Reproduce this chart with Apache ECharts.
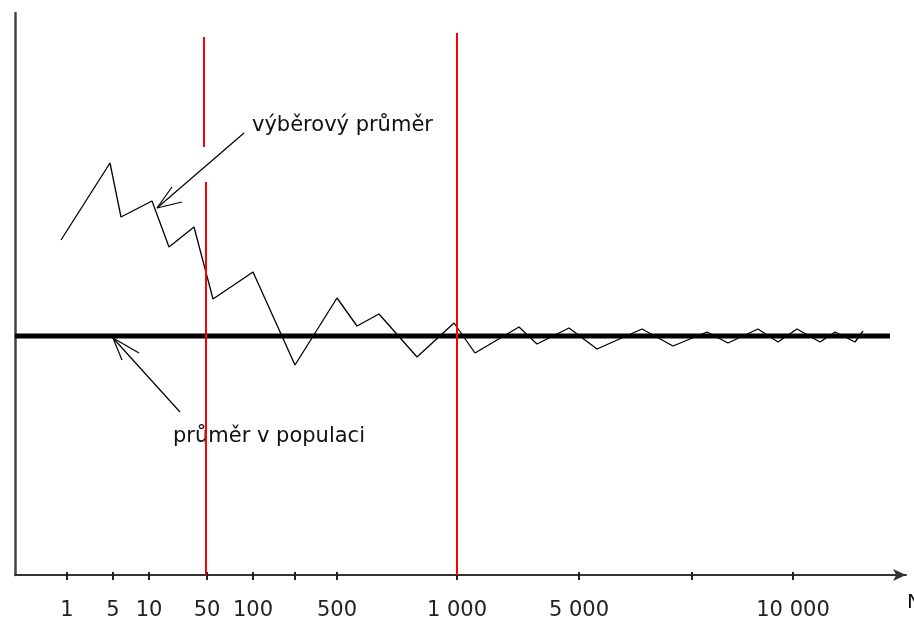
<!DOCTYPE html>
<html>
<head>
<meta charset="utf-8">
<script src="https://cdn.jsdelivr.net/npm/echarts@6/dist/echarts.min.js"></script>
<style>
html,body{margin:0;padding:0;background:#fff;}
#c{width:914px;height:621px;}
</style>
</head>
<body>
<div id="c"></div>
<script>
// Schematic axis positions (N is not on a regular scale in the original)
const tickPositions = [52, 98, 134, 192, 238, 280, 322, 442, 564, 677, 778];
const tickLabels    = ['1', '5', '10', '50', '100', '', '500', '1 000', '5 000', '', '10 000'];

// sample mean path (výběrový průměr): schematic position vs value
const sampleX = [46, 95, 106, 137, 154, 179, 198, 238, 280, 322, 342, 364, 402, 439, 460, 504, 522, 554, 582, 627, 658, 692, 713, 743, 763, 782, 805, 820, 840, 848];
const sampleY = [335, 412, 358, 374, 328, 348, 276, 303, 210, 277, 249, 261, 218, 252, 222, 248, 231, 247, 226, 246, 229, 243, 232, 246, 233, 246, 233, 243, 233, 244];

// population mean (průměr v populaci)
const populationMean = 239;
const populationSpan = [0, 875];

// red reference lines at N = 50 and N = 1000
const refLineUpper = [[189, 538], [189, 428]];
const refLineLower = [[191, 393], [191, 0]];
const refLine1000  = [[442, 542], [442, 0]];

// annotation arrows [tail, head, barb1, barb2]
const arrowSample = [[229, 442], [142, 367], [157, 388], [167, 373]];
const arrowPop    = [[165, 163], [98, 237], [107, 215], [124, 222]];

const FONT = 'DejaVu Sans';

function arrowSegments(a) {
  return [
    [{coord: a[0]}, {coord: a[1]}],
    [{coord: a[1]}, {coord: a[2]}],
    [{coord: a[1]}, {coord: a[3]}]
  ];
}

const chart = echarts.init(document.getElementById('c'), null, {renderer: 'canvas'});
const labelMap = {};
tickPositions.forEach((p, i) => { labelMap[p] = tickLabels[i]; });

chart.setOption({
  animation: false,
  backgroundColor: '#fff',
  grid: {left: 15, right: 8, top: 13, bottom: 46},
  xAxis: [{
    type: 'value', min: 0, max: 891,
    splitLine: {show: false},
    axisLine: {show: true, lineStyle: {color: '#333', width: 2},
      symbol: ['none', 'arrow'], symbolSize: [9, 13]},
    axisTick: {show: true, length: 5, lineStyle: {color: '#222', width: 2},
      customValues: tickPositions},
    axisLabel: {show: true, margin: 25, color: '#222', fontFamily: FONT, fontSize: 21,
      customValues: tickPositions.filter((p, i) => tickLabels[i] !== ''),
      formatter: v => labelMap[v] || ''}
  }, {
    type: 'value', min: 0, max: 891, position: 'bottom',
    splitLine: {show: false},
    axisLine: {show: false},
    axisTick: {show: true, inside: true, length: 3, lineStyle: {color: '#222', width: 2},
      customValues: tickPositions},
    axisLabel: {show: false}
  }],
  yAxis: {
    type: 'value', min: 0, max: 562,
    splitLine: {show: false},
    axisLine: {show: true, lineStyle: {color: '#444', width: 2.5}},
    axisTick: {show: false},
    axisLabel: {show: false}
  },
  graphic: [
    {type: 'text', left: 252, top: 115, style: {text: 'výběrový průměr', font: '21px "DejaVu Sans"', fill: '#111'}},
    {type: 'text', left: 173, top: 426, style: {text: 'průměr v populaci', font: '21px "DejaVu Sans"', fill: '#111'}},
    {type: 'text', left: 907, top: 593, style: {text: 'N', font: '20px "DejaVu Sans"', fill: '#111'}}
  ],
  series: [
    {
      name: 'průměr v populaci', type: 'line', xAxisIndex: 0,
      data: populationSpan.map(x => [x, populationMean]),
      symbol: 'none', lineStyle: {color: '#000', width: 5}, z: 3,
      markLine: {
        silent: true, symbol: ['none', 'none'], animation: false,
        lineStyle: {color: '#ff0000', width: 2, type: 'solid'},
        label: {show: false},
        data: [
          [{coord: refLineUpper[0]}, {coord: refLineUpper[1]}],
          [{coord: refLineLower[0]}, {coord: refLineLower[1]}],
          [{coord: refLine1000[0]}, {coord: refLine1000[1]}]
        ]
      }
    },
    {
      name: 'výběrový průměr', type: 'line', xAxisIndex: 0,
      data: sampleX.map((x, i) => [x, sampleY[i]]),
      symbol: 'none', lineStyle: {color: '#000', width: 1.3}, z: 4,
      markLine: {
        silent: true, symbol: ['none', 'none'], animation: false,
        lineStyle: {color: '#000', width: 1.2, type: 'solid'},
        label: {show: false},
        data: arrowSegments(arrowSample).concat(arrowSegments(arrowPop))
      }
    }
  ]
});
</script>
</body>
</html>
